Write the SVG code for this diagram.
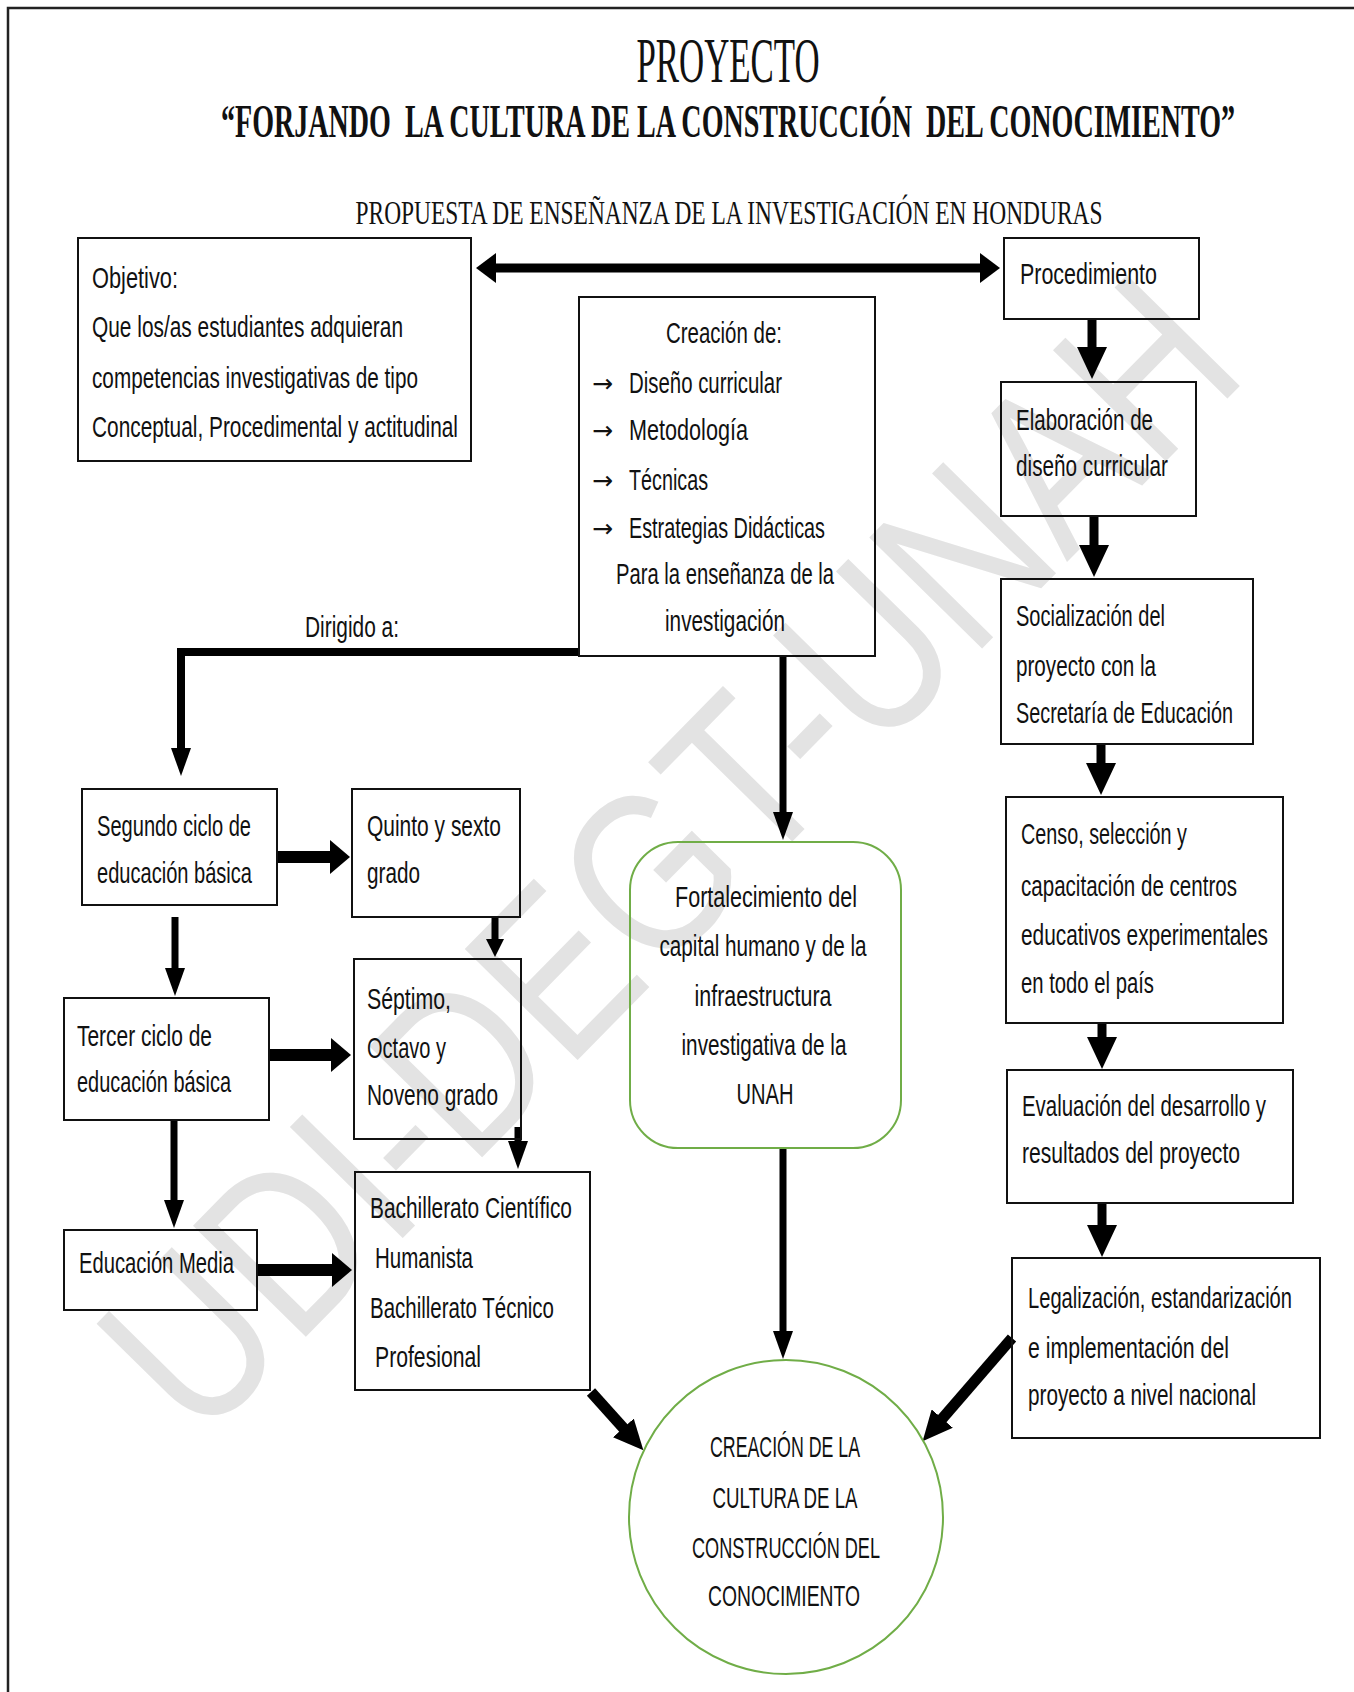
<svg xmlns="http://www.w3.org/2000/svg" width="1354" height="1692" viewBox="0 0 1354 1692">
<style>
.t{font-family:"Liberation Sans",Arial,sans-serif;font-size:30px;fill:#111;}
.c{text-anchor:middle;}
.ar{font-family:"DejaVu Sans",sans-serif;font-size:25px;fill:#111;}
.box{fill:none;stroke:#111;stroke-width:2;}
.grn{fill:none;stroke:#70ad47;stroke-width:2;}
.ln{fill:none;stroke:#000;}
.ttl{font-family:"Liberation Serif","Times New Roman",serif;fill:#111;text-anchor:middle;}
</style>
<defs>
<marker id="mR" markerUnits="userSpaceOnUse" markerWidth="32" markerHeight="30" viewBox="0 0 32 30" refX="1" refY="15" orient="auto"><path d="M0,0 L32,15 L0,30 Z" fill="#000"/></marker>
<marker id="mN" markerUnits="userSpaceOnUse" markerWidth="28" markerHeight="20" viewBox="0 0 28 20" refX="1" refY="10" orient="auto"><path d="M0,0 L28,10 L0,20 Z" fill="#000"/></marker>
<marker id="mS" markerUnits="userSpaceOnUse" markerWidth="18" markerHeight="18" viewBox="0 0 18 18" refX="1" refY="9" orient="auto"><path d="M0,0 L18,9 L0,18 Z" fill="#000"/></marker>
<marker id="mH" markerUnits="userSpaceOnUse" markerWidth="20" markerHeight="34" viewBox="0 0 20 34" refX="1" refY="17" orient="auto"><path d="M0,0 L20,17 L0,34 Z" fill="#000"/></marker>
<marker id="mD" markerUnits="userSpaceOnUse" markerWidth="30" markerHeight="28" viewBox="0 0 30 28" refX="1" refY="14" orient="auto"><path d="M0,0 L30,14 L0,28 Z" fill="#000"/></marker>
<marker id="mT" markerUnits="userSpaceOnUse" markerWidth="20" markerHeight="30" viewBox="0 0 20 30" refX="1" refY="15" orient="auto-start-reverse"><path d="M0,0 L20,15 L0,30 Z" fill="#000"/></marker>
</defs>
<rect width="1354" height="1692" fill="#fff"/>
<text id="watermark" x="725" y="910" transform="rotate(-45.5 725 910)" font-family="Liberation Sans,Arial,sans-serif" font-size="230" fill="#e3e3e3" text-anchor="middle" textLength="1500" lengthAdjust="spacingAndGlyphs">UDI-DEGT-UNAH</text>
<path d="M8,1692 V8 H1354" fill="none" stroke="#222" stroke-width="2.5"/>
<g id="titles">
<text class="ttl" x="728" y="82" font-size="64" textLength="183" lengthAdjust="spacingAndGlyphs">PROYECTO</text>
<text class="ttl" x="728" y="137" font-size="46" font-weight="bold" textLength="1014" lengthAdjust="spacingAndGlyphs" style="white-space:pre">“FORJANDO  LA CULTURA DE LA CONSTRUCCIÓN  DEL CONOCIMIENTO”</text>
<text class="ttl" x="729" y="224" font-size="34" textLength="747" lengthAdjust="spacingAndGlyphs">PROPUESTA DE ENSEÑANZA DE LA INVESTIGACIÓN EN HONDURAS</text>
</g>
<g id="connectors">
<line class="ln" x1="495" y1="268" x2="981" y2="268" stroke-width="9" marker-start="url(#mT)" marker-end="url(#mT)"/>
<line class="ln" x1="1092" y1="320" x2="1092" y2="348" stroke-width="9" marker-end="url(#mR)"/>
<line class="ln" x1="1094" y1="516" x2="1094" y2="546" stroke-width="9" marker-end="url(#mR)"/>
<line class="ln" x1="1101" y1="744" x2="1101" y2="764" stroke-width="9" marker-end="url(#mR)"/>
<line class="ln" x1="1102" y1="1023" x2="1102" y2="1038" stroke-width="9" marker-end="url(#mR)"/>
<line class="ln" x1="1102" y1="1203" x2="1102" y2="1226" stroke-width="9" marker-end="url(#mR)"/>
<line class="ln" x1="1012" y1="1338" x2="941.6" y2="1419.3" stroke-width="11" marker-end="url(#mD)"/>
<line class="ln" x1="591" y1="1392" x2="624" y2="1428.7" stroke-width="11" marker-end="url(#mD)"/>
<line class="ln" x1="783" y1="1148" x2="783" y2="1332" stroke-width="7" marker-end="url(#mN)"/>
<line class="ln" x1="783" y1="657" x2="783" y2="813" stroke-width="7" marker-end="url(#mN)"/>
<polyline class="ln" points="579,652 181,652 181,749" stroke-width="8" marker-end="url(#mN)"/>
<line class="ln" x1="175" y1="917" x2="175" y2="969" stroke-width="7" marker-end="url(#mN)"/>
<line class="ln" x1="174" y1="1120" x2="174" y2="1201" stroke-width="7" marker-end="url(#mN)"/>
<line class="ln" x1="277" y1="857" x2="331" y2="857" stroke-width="12" marker-end="url(#mH)"/>
<line class="ln" x1="269" y1="1055" x2="332" y2="1055" stroke-width="12" marker-end="url(#mH)"/>
<line class="ln" x1="257" y1="1270" x2="333" y2="1270" stroke-width="12" marker-end="url(#mH)"/>
<line class="ln" x1="495" y1="917" x2="495" y2="940" stroke-width="7" marker-end="url(#mS)"/>
<line class="ln" x1="518" y1="1127" x2="518" y2="1142" stroke-width="7" marker-end="url(#mN)"/>
</g>
<g id="objetivo">
<rect class="box" x="78" y="238" width="393" height="223"/>
<text class="t" x="92" y="288" textLength="86" lengthAdjust="spacingAndGlyphs">Objetivo:</text>
<text class="t" x="92" y="337" textLength="311" lengthAdjust="spacingAndGlyphs">Que los/as estudiantes adquieran</text>
<text class="t" x="92" y="388" textLength="326" lengthAdjust="spacingAndGlyphs">competencias investigativas de tipo</text>
<text class="t" x="92" y="437" textLength="366" lengthAdjust="spacingAndGlyphs">Conceptual, Procedimental y actitudinal</text>
</g>
<g id="creacion">
<rect class="box" x="579" y="297" width="296" height="359"/>
<text class="t c" x="724" y="343" textLength="116" lengthAdjust="spacingAndGlyphs">Creación de:</text>
<text class="ar" x="592" y="392">→</text>
<text class="t" x="629" y="393" textLength="153" lengthAdjust="spacingAndGlyphs">Diseño curricular</text>
<text class="ar" x="592" y="439">→</text>
<text class="t" x="629" y="440" textLength="119" lengthAdjust="spacingAndGlyphs">Metodología</text>
<text class="ar" x="592" y="489">→</text>
<text class="t" x="629" y="490" textLength="79" lengthAdjust="spacingAndGlyphs">Técnicas</text>
<text class="ar" x="592" y="537">→</text>
<text class="t" x="629" y="538" textLength="196" lengthAdjust="spacingAndGlyphs">Estrategias Didácticas</text>
<text class="t c" x="725" y="584" textLength="218" lengthAdjust="spacingAndGlyphs">Para la enseñanza de la</text>
<text class="t c" x="725" y="631" textLength="120" lengthAdjust="spacingAndGlyphs">investigación</text>
</g>
<g id="dirigido">
<text class="t" x="305" y="637" textLength="94" lengthAdjust="spacingAndGlyphs">Dirigido a:</text>
</g>
<g id="procedimiento">
<rect class="box" x="1004" y="238" width="195" height="81"/>
<text class="t" x="1020" y="284" textLength="137" lengthAdjust="spacingAndGlyphs">Procedimiento</text>
</g>
<g id="elaboracion">
<rect class="box" x="1001" y="382" width="195" height="134"/>
<text class="t" x="1016" y="430" textLength="137" lengthAdjust="spacingAndGlyphs">Elaboración de</text>
<text class="t" x="1016" y="476" textLength="152" lengthAdjust="spacingAndGlyphs">diseño curricular</text>
</g>
<g id="socializacion">
<rect class="box" x="1001" y="579" width="252" height="165"/>
<text class="t" x="1016" y="626" textLength="149" lengthAdjust="spacingAndGlyphs">Socialización del</text>
<text class="t" x="1016" y="676" textLength="140" lengthAdjust="spacingAndGlyphs">proyecto con la</text>
<text class="t" x="1016" y="723" textLength="217" lengthAdjust="spacingAndGlyphs">Secretaría de Educación</text>
</g>
<g id="censo">
<rect class="box" x="1006" y="797" width="277" height="226"/>
<text class="t" x="1021" y="844" textLength="166" lengthAdjust="spacingAndGlyphs">Censo, selección y</text>
<text class="t" x="1021" y="896" textLength="216" lengthAdjust="spacingAndGlyphs">capacitación de centros</text>
<text class="t" x="1021" y="945" textLength="247" lengthAdjust="spacingAndGlyphs">educativos experimentales</text>
<text class="t" x="1021" y="993" textLength="133" lengthAdjust="spacingAndGlyphs">en todo el país</text>
</g>
<g id="evaluacion">
<rect class="box" x="1007" y="1070" width="286" height="133"/>
<text class="t" x="1022" y="1116" textLength="244" lengthAdjust="spacingAndGlyphs">Evaluación del desarrollo y</text>
<text class="t" x="1022" y="1163" textLength="218" lengthAdjust="spacingAndGlyphs">resultados del proyecto</text>
</g>
<g id="legalizacion">
<rect class="box" x="1012" y="1258" width="308" height="180"/>
<text class="t" x="1028" y="1308" textLength="264" lengthAdjust="spacingAndGlyphs">Legalización, estandarización</text>
<text class="t" x="1028" y="1358" textLength="201" lengthAdjust="spacingAndGlyphs">e implementación del</text>
<text class="t" x="1028" y="1405" textLength="228" lengthAdjust="spacingAndGlyphs">proyecto a nivel nacional</text>
</g>
<g id="segundo">
<rect class="box" x="82" y="789" width="195" height="116"/>
<text class="t" x="97" y="836" textLength="154" lengthAdjust="spacingAndGlyphs">Segundo ciclo de</text>
<text class="t" x="97" y="883" textLength="155" lengthAdjust="spacingAndGlyphs">educación básica</text>
</g>
<g id="quinto">
<rect class="box" x="352" y="789" width="168" height="128"/>
<text class="t" x="367" y="836" textLength="134" lengthAdjust="spacingAndGlyphs">Quinto y sexto</text>
<text class="t" x="367" y="883" textLength="53" lengthAdjust="spacingAndGlyphs">grado</text>
</g>
<g id="septimo">
<rect class="box" x="354" y="959" width="167" height="180"/>
<text class="t" x="367" y="1009" textLength="84" lengthAdjust="spacingAndGlyphs">Séptimo,</text>
<text class="t" x="367" y="1058" textLength="79" lengthAdjust="spacingAndGlyphs">Octavo y</text>
<text class="t" x="367" y="1105" textLength="131" lengthAdjust="spacingAndGlyphs">Noveno grado</text>
</g>
<g id="tercer">
<rect class="box" x="64" y="998" width="205" height="122"/>
<text class="t" x="77" y="1046" textLength="135" lengthAdjust="spacingAndGlyphs">Tercer ciclo de</text>
<text class="t" x="77" y="1092" textLength="154" lengthAdjust="spacingAndGlyphs">educación básica</text>
</g>
<g id="media">
<rect class="box" x="64" y="1230" width="193" height="80"/>
<text class="t" x="79" y="1273" textLength="155" lengthAdjust="spacingAndGlyphs">Educación Media</text>
</g>
<g id="bachillerato">
<rect class="box" x="355" y="1172" width="235" height="218"/>
<text class="t" x="370" y="1218" textLength="202" lengthAdjust="spacingAndGlyphs">Bachillerato Científico</text>
<text class="t" x="375" y="1268" textLength="98" lengthAdjust="spacingAndGlyphs">Humanista</text>
<text class="t" x="370" y="1318" textLength="184" lengthAdjust="spacingAndGlyphs">Bachillerato Técnico</text>
<text class="t" x="375" y="1367" textLength="106" lengthAdjust="spacingAndGlyphs">Profesional</text>
</g>
<g id="fortalecimiento">
<rect class="grn" x="630" y="842" width="271" height="306" rx="48" ry="48"/>
<text class="t c" x="766" y="907" textLength="182" lengthAdjust="spacingAndGlyphs">Fortalecimiento del</text>
<text class="t c" x="763" y="956" textLength="207" lengthAdjust="spacingAndGlyphs">capital humano y de la</text>
<text class="t c" x="763" y="1006" textLength="137" lengthAdjust="spacingAndGlyphs">infraestructura</text>
<text class="t c" x="764" y="1055" textLength="165" lengthAdjust="spacingAndGlyphs">investigativa de la</text>
<text class="t c" x="765" y="1104" textLength="57" lengthAdjust="spacingAndGlyphs">UNAH</text>
</g>
<g id="creacion-cultura">
<circle class="grn" cx="786" cy="1517" r="157"/>
<text class="t c" x="785" y="1457" textLength="150" lengthAdjust="spacingAndGlyphs">CREACIÓN DE LA</text>
<text class="t c" x="785" y="1508" textLength="145" lengthAdjust="spacingAndGlyphs">CULTURA DE LA</text>
<text class="t c" x="786" y="1558" textLength="188" lengthAdjust="spacingAndGlyphs">CONSTRUCCIÓN DEL</text>
<text class="t c" x="784" y="1606" textLength="152" lengthAdjust="spacingAndGlyphs">CONOCIMIENTO</text>
</g>
</svg>
